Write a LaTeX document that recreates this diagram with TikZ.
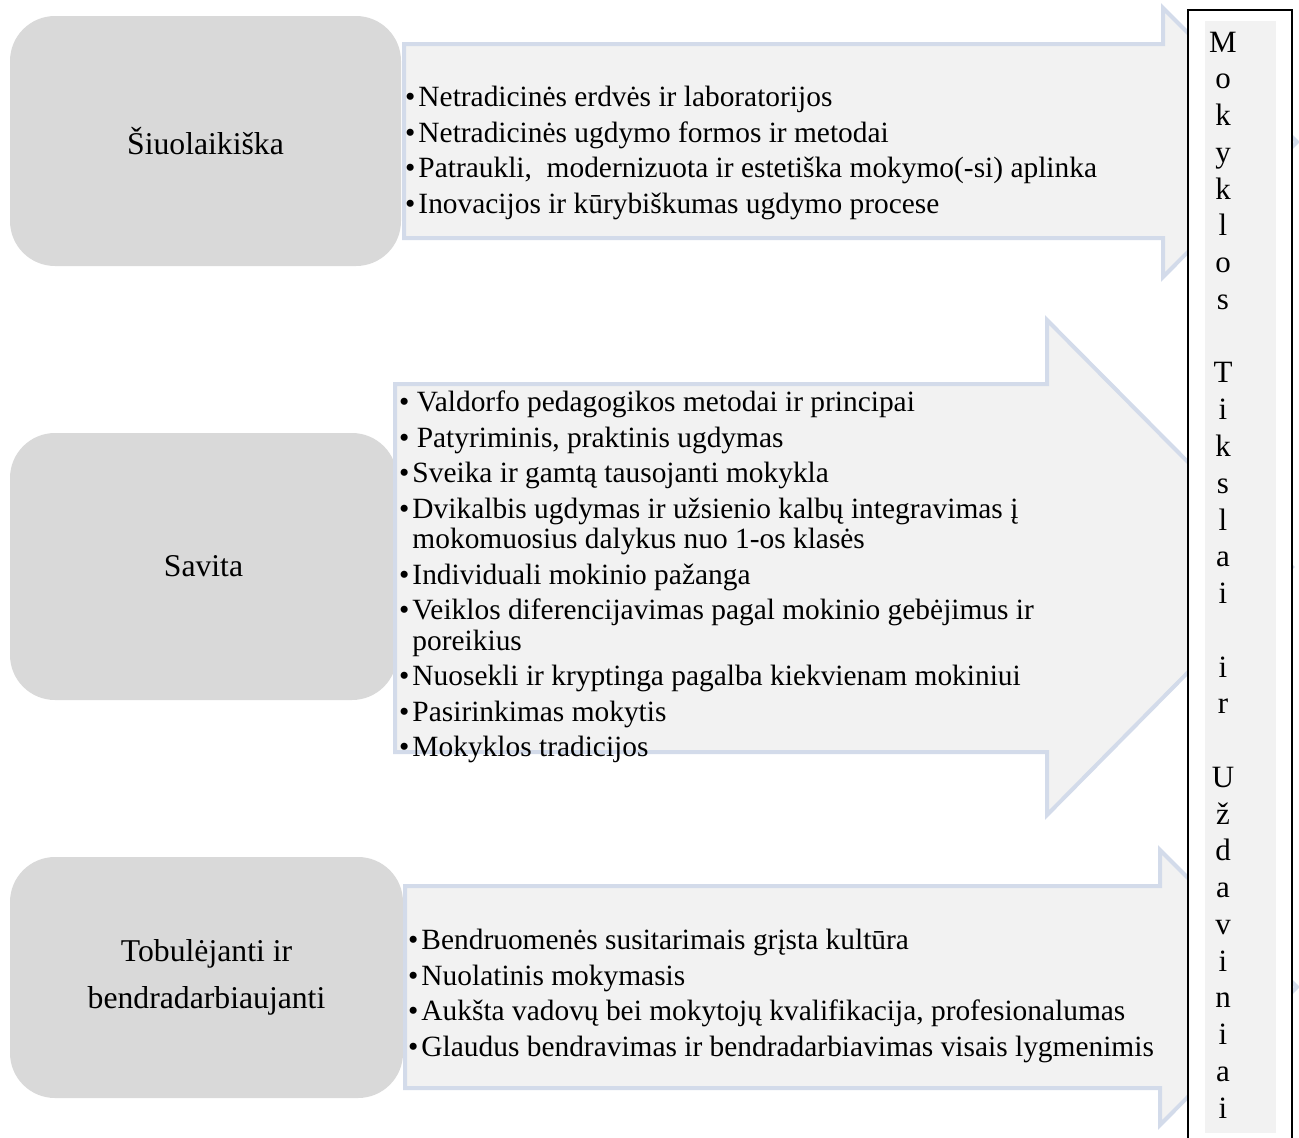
\documentclass[tikz,border=0pt]{standalone}
\usepackage{fontspec}
\setmainfont{Liberation Serif}
\usepackage{xcolor}
\definecolor{Col1}{RGB}{217,217,217}
\definecolor{Col2}{RGB}{211,219,234}
\definecolor{Col3}{RGB}{242,242,242}
\usepackage{tikz}
\newcommand{\Bul}{•\kern3pt}
\tikzstyle{Box}=[fill=Col1,rounded corners=45pt,inner sep=0pt,
font=\fontsize{31.7}{47}\selectfont,align=center]
\tikzstyle{Arrow}=[draw=Col2,fill=Col3,line width=4pt,line join=miter]
\tikzstyle{List}=[font=\fontsize{29.4}{35.5}\selectfont,align=left,
anchor=west,inner sep=0pt]
\tikzstyle{Goal}=[font=\fontsize{31}{36.76}\selectfont,align=center,
inner sep=0pt]

\begin{document}
\begin{tikzpicture}[x=1pt,y=-1pt]
        \useasboundingbox (0,0) rectangle (1299,1138);
        % grey title boxes
        \node[Box,minimum width=391pt,minimum height=250pt](modern)at(205.5,141){Šiuolaikiška};
        \node[Box,minimum width=387pt,minimum height=267pt](own)at(203.5,566.5){Savita};
        \node[Box,minimum width=393pt,minimum height=241pt](improve)at(206.5,977.5){Tobulėjanti ir\\bendradarbiaujanti};
        % block arrows
        \draw[Arrow](404,44)--(1163,44)--(1163,8)--(1297,142)--(1163,277)--(1163,238)--(404,238)--cycle;
        \draw[Arrow](395,384)--(1047,384)--(1047,320)--(1292,567)--(1047,815)--(1047,752)--(395,752)--cycle;
        \draw[Arrow](405,886)--(1160,886)--(1160,850)--(1297,987)--(1160,1125)--(1160,1088)--(405,1088)--cycle;
        % goals column
        \draw[line width=2pt,fill=white](1188,10)rectangle(1292,1150);
        \fill[Col3](1205,21)rectangle(1276,1133);
        \node[Goal](goal)at(1223,575){M\\o\\k\\y\\k\\l\\o\\s\\\mbox{}\\T\\i\\k\\s\\l\\a\\i\\\mbox{}\\i\\r\\\mbox{}\\U\\ž\\d\\a\\v\\i\\n\\i\\a\\i};
        % lists
        \node[List](modernL)at(405,153){\Bul Netradicinės erdvės ir laboratorijos\\
        \Bul Netradicinės ugdymo formos ir metodai\\
        \Bul Patraukli, \ modernizuota ir estetiška mokymo(-si) aplinka\\
        \Bul Inovacijos ir kūrybiškumas ugdymo procese};
        \node[List](ownL)at(399,577){• Valdorfo pedagogikos metodai ir principai\\
        • Patyriminis, praktinis ugdymas\\
        \Bul Sveika ir gamtą tausojanti mokykla\\
        \Bul Dvikalbis ugdymas ir užsienio kalbų integravimas į\\[-5pt]
        \phantom{\Bul}mokomuosius dalykus nuo 1-os klasės\\
        \Bul Individuali mokinio pažanga\\
        \Bul Veiklos diferencijavimas pagal mokinio gebėjimus ir\\[-5pt]
        \phantom{\Bul}poreikius\\
        \Bul Nuosekli ir kryptinga pagalba kiekvienam mokiniui\\
        \Bul Pasirinkimas mokytis\\
        \Bul Mokyklos tradicijos};
        \node[List](improveL)at(408,996){\Bul Bendruomenės susitarimais grįsta kultūra\\
        \Bul Nuolatinis mokymasis\\
        \Bul Aukšta vadovų bei mokytojų kvalifikacija, profesionalumas\\
        \Bul Glaudus bendravimas ir bendradarbiavimas visais lygmenimis};
    \end{tikzpicture}
\end{document}
